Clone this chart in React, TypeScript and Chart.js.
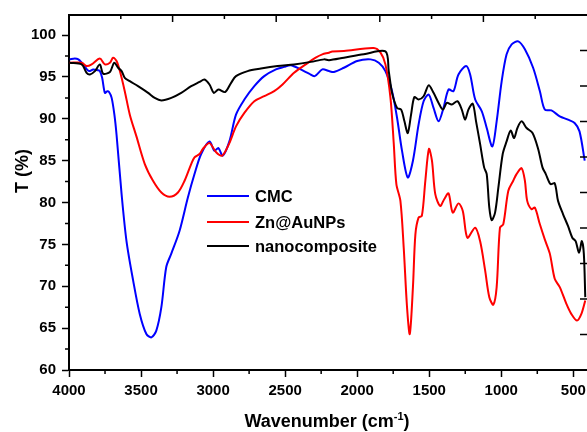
import React, { useEffect, useRef } from "react";
import { Chart, registerables } from "chart.js";

Chart.register(...registerables);

// ---- Data (wavenumber in cm-1, transmittance in %) ----
const cmcWave = [3995, 3960, 3935, 3912, 3880, 3860, 3832, 3800, 3786, 3770, 3751, 3735, 3722, 3704, 3685, 3670, 3635, 3601, 3555, 3509, 3463, 3428, 3394, 3359, 3325, 3290, 3233, 3175, 3129, 3083, 3025, 2991, 2963, 2933, 2887, 2841, 2783, 2714, 2645, 2564, 2507, 2461, 2392, 2334, 2295, 2242, 2196, 2161, 2092, 2000, 1907, 1850, 1804, 1758, 1723, 1689, 1649, 1613, 1574, 1539, 1504, 1470, 1435, 1401, 1366, 1332, 1297, 1244, 1216, 1181, 1135, 1101, 1062, 1032, 997, 963, 928, 882, 836, 779, 732, 698, 652, 594, 537, 491, 457, 421];
const cmcT = [97.1, 97.2, 97.1, 96.7, 96.0, 95.7, 95.9, 95.8, 95.7, 94.9, 93.1, 93.3, 93.2, 92.5, 90.5, 88.1, 81.0, 75.4, 70.7, 66.7, 64.3, 63.9, 64.7, 67.5, 72.3, 73.9, 76.6, 80.6, 83.4, 85.8, 87.3, 86.2, 86.5, 85.6, 87.3, 90.5, 92.3, 93.9, 95.1, 95.9, 96.2, 96.4, 95.9, 95.4, 95.1, 95.9, 95.7, 95.6, 96.1, 96.9, 97.1, 96.7, 95.7, 93.3, 90.1, 86.2, 83.0, 85.0, 89.3, 92.1, 92.9, 91.3, 89.7, 91.3, 93.5, 93.3, 95.3, 96.3, 95.3, 92.3, 90.9, 88.9, 86.7, 89.7, 94.5, 97.7, 98.9, 99.25, 98.3, 96.1, 93.3, 91.1, 91.0, 90.3, 89.9, 89.5, 88.5, 85.0];

const znWave = [3995, 3912, 3878, 3843, 3786, 3751, 3716, 3694, 3670, 3647, 3613, 3578, 3532, 3474, 3417, 3359, 3302, 3244, 3198, 3152, 3129, 3094, 3071, 3025, 2979, 2937, 2887, 2841, 2783, 2714, 2645, 2576, 2518, 2438, 2357, 2288, 2242, 2196, 2173, 2092, 1885, 1838, 1804, 1769, 1746, 1728, 1700, 1677, 1654, 1635, 1613, 1596, 1574, 1551, 1527, 1502, 1481, 1458, 1424, 1396, 1366, 1337, 1297, 1267, 1235, 1181, 1147, 1112, 1083, 1055, 1032, 1009, 986, 951, 917, 894, 859, 836, 820, 790, 767, 732, 698, 663, 629, 594, 548, 514, 474, 444, 417];
const znT = [96.7, 96.7, 96.3, 96.5, 97.2, 96.5, 96.7, 97.3, 96.9, 95.7, 93.3, 90.5, 87.9, 84.6, 82.6, 81.2, 80.7, 81.2, 82.6, 84.6, 85.4, 85.8, 86.4, 87.1, 86.0, 85.6, 87.1, 89.1, 90.7, 92.1, 92.7, 93.3, 94.1, 95.5, 96.5, 97.3, 97.7, 97.9, 98.05, 98.1, 98.45, 97.9, 96.5, 92.5, 87.0, 82.2, 80.2, 74.6, 67.5, 64.3, 69.9, 76.2, 78.2, 78.4, 82.6, 86.4, 85.0, 81.0, 79.6, 80.4, 81.1, 78.8, 79.9, 79.0, 75.8, 77.0, 75.4, 71.9, 68.7, 67.8, 69.9, 77.0, 77.4, 81.4, 82.6, 83.4, 84.1, 82.6, 80.2, 79.2, 79.4, 77.4, 75.6, 73.9, 70.9, 69.9, 67.9, 66.7, 65.9, 66.7, 68.3];

const nanoWave = [3995, 3912, 3878, 3855, 3820, 3786, 3763, 3716, 3686, 3659, 3635, 3613, 3578, 3521, 3451, 3405, 3359, 3290, 3221, 3152, 3094, 3060, 3025, 2995, 2963, 2917, 2875, 2841, 2760, 2668, 2553, 2438, 2322, 2230, 2196, 2092, 1954, 1804, 1781, 1758, 1723, 1695, 1672, 1649, 1626, 1603, 1574, 1539, 1504, 1470, 1435, 1405, 1378, 1344, 1304, 1274, 1251, 1228, 1198, 1175, 1147, 1119, 1101, 1083, 1066, 1043, 1020, 990, 963, 935, 911, 888, 859, 824, 783, 744, 714, 691, 658, 629, 606, 571, 537, 507, 484, 460, 441, 427, 417];
const nanoT = [96.7, 96.5, 95.5, 95.3, 95.7, 96.5, 95.4, 95.6, 96.7, 96.1, 95.7, 94.9, 94.5, 93.9, 93.1, 92.5, 92.2, 92.5, 93.1, 93.9, 94.4, 94.7, 94.1, 93.1, 93.5, 93.2, 94.3, 95.1, 95.7, 96.0, 96.3, 96.5, 96.8, 97.1, 97.0, 97.3, 97.7, 98.05, 95.7, 93.1, 91.3, 91.1, 89.7, 88.3, 90.5, 92.6, 92.3, 92.7, 94.0, 93.1, 91.9, 91.1, 91.9, 91.7, 92.1, 91.1, 89.9, 91.1, 91.8, 89.7, 87.0, 84.2, 83.4, 79.4, 77.9, 78.8, 81.8, 85.8, 87.3, 88.6, 87.7, 88.9, 89.7, 88.9, 88.3, 86.4, 84.2, 83.4, 82.2, 82.3, 80.2, 78.6, 77.2, 75.8, 75.4, 74.0, 75.4, 73.9, 68.7];

const seriesNames = ["CMC", "Zn@AuNPs", "nanocomposite"];
const seriesColors = ["#0000ff", "#ff0000", "#000000"];

const xTicks = [500, 1000, 1500, 2000, 2500, 3000, 3500, 4000];
const xMinorTicks = [750, 1250, 1750, 2250, 2750, 3250, 3750];
const yTicks = [60, 65, 70, 75, 80, 85, 90, 95, 100];
const yMinorTicks = [62.5, 67.5, 72.5, 77.5, 82.5, 87.5, 92.5, 97.5];

const X_MIN = 405;
const X_MAX = 4000;
const Y_MIN = 60;
const Y_MAX = 102.4;

const FONT = 'Arial, "Liberation Sans", sans-serif';

const zip = (xs: number[], ys: number[]) => xs.map((x, i) => ({ x, y: ys[i] }));

const framePlugin = {
  id: "frame",
  afterDraw(chart: any) {
    const { ctx, chartArea: a, scales } = chart;
    const xs = scales.x;
    const ys = scales.y;
    ctx.save();
    ctx.strokeStyle = "#000";
    ctx.fillStyle = "#000";

    // top border
    ctx.lineWidth = 2;
    ctx.beginPath();
    ctx.moveTo(a.left - 1, a.top);
    ctx.lineTo(a.right, a.top);
    ctx.stroke();

    ctx.lineWidth = 1.5;
    ctx.beginPath();
    // minor bottom ticks
    xMinorTicks.forEach((v) => {
      const px = xs.getPixelForValue(v);
      ctx.moveTo(px, a.bottom);
      ctx.lineTo(px, a.bottom + 4);
    });
    // minor left ticks
    yMinorTicks.forEach((v) => {
      const py = ys.getPixelForValue(v);
      ctx.moveTo(a.left, py);
      ctx.lineTo(a.left - 4, py);
    });
    // top axis ticks (inward), 10 divisions
    const w = a.right - a.left;
    const h = a.bottom - a.top;
    for (let i = 1; i < 10; i++) {
      const px = a.left + (i * w) / 10;
      ctx.moveTo(px, a.top);
      ctx.lineTo(px, a.top + (i % 2 === 0 ? 7 : 4));
    }
    // right axis ticks (inward), 10 divisions
    for (let i = 1; i < 10; i++) {
      const py = a.bottom - (i * h) / 10;
      ctx.moveTo(a.right, py);
      ctx.lineTo(a.right - 7, py);
    }
    ctx.stroke();

    // legend
    const lx = 207;
    const lys = [196, 222, 246];
    chart.data.datasets.forEach((ds: any, i: number) => {
      ctx.strokeStyle = ds.borderColor;
      ctx.lineWidth = 2;
      ctx.beginPath();
      ctx.moveTo(lx, lys[i]);
      ctx.lineTo(lx + 42, lys[i]);
      ctx.stroke();
      ctx.fillStyle = "#000";
      ctx.font = `bold 16.5px ${FONT}`;
      ctx.textAlign = "left";
      ctx.textBaseline = "middle";
      ctx.fillText(ds.label, lx + 48, lys[i] + 1);
    });

    // x title with superscript
    ctx.fillStyle = "#000";
    ctx.textBaseline = "alphabetic";
    ctx.textAlign = "left";
    const big = `bold 18px ${FONT}`;
    const small = `bold 11px ${FONT}`;
    const p1 = "Wavenumber (cm";
    const p2 = "-1";
    const p3 = ")";
    ctx.font = big;
    const w1 = ctx.measureText(p1).width;
    const w3 = ctx.measureText(p3).width;
    ctx.font = small;
    const w2 = ctx.measureText(p2).width;
    const total = w1 + w2 + w3;
    const cx = (a.left + a.right) / 2 - 1;
    let tx = cx - total / 2;
    const base = 427;
    ctx.font = big;
    ctx.fillText(p1, tx, base);
    tx += w1;
    ctx.font = small;
    ctx.fillText(p2, tx, base - 7);
    tx += w2;
    ctx.font = big;
    ctx.fillText(p3, tx, base);

    // y title
    ctx.save();
    ctx.translate(28, 171);
    ctx.rotate(-Math.PI / 2);
    ctx.font = big;
    ctx.textAlign = "center";
    ctx.textBaseline = "alphabetic";
    ctx.fillText("T (%)", 0, 0);
    ctx.restore();

    ctx.restore();
  },
};

export default function App() {
  const ref = useRef<HTMLCanvasElement | null>(null);

  useEffect(() => {
    if (!ref.current) return;
    const waves = [cmcWave, znWave, nanoWave];
    const values = [cmcT, znT, nanoT];
    const orders = [2, 1, 0];
    const chart = new Chart(ref.current, {
      type: "line",
      data: {
        datasets: seriesNames.map((name, i) => ({
          label: name,
          data: zip(waves[i], values[i]),
          borderColor: seriesColors[i],
          backgroundColor: seriesColors[i],
          borderWidth: 2,
          pointRadius: 0,
          tension: 0.3,
          fill: false,
          order: orders[i],
        })),
      },
      options: {
        responsive: false,
        animation: false,
        events: [],
        layout: { padding: { top: 13, right: 0, left: 0, bottom: 0 } },
        plugins: {
          legend: { display: false },
          tooltip: { enabled: false },
          title: { display: false },
        },
        scales: {
          x: {
            type: "linear",
            reverse: true,
            min: X_MIN,
            max: X_MAX,
            afterBuildTicks: (s: any) => {
              s.ticks = xTicks.map((v) => ({ value: v }));
            },
            afterFit: (s: any) => {
              s.height = 62;
            },
            grid: {
              display: true,
              drawOnChartArea: false,
              drawTicks: true,
              tickLength: 7,
              tickWidth: 1.5,
              tickColor: "#000",
            },
            border: { display: true, color: "#000", width: 2 },
            ticks: {
              color: "#000",
              padding: 5,
              maxRotation: 0,
              autoSkip: false,
              font: { family: FONT, size: 15, weight: "bold" },
              callback: (v: any) => String(v),
            },
          },
          y: {
            type: "linear",
            min: Y_MIN,
            max: Y_MAX,
            afterBuildTicks: (s: any) => {
              s.ticks = yTicks.map((v) => ({ value: v }));
            },
            afterFit: (s: any) => {
              s.width = 69;
            },
            grid: {
              display: true,
              drawOnChartArea: false,
              drawTicks: true,
              tickLength: 7,
              tickWidth: 1.5,
              tickColor: "#000",
            },
            border: { display: true, color: "#000", width: 2 },
            ticks: {
              color: "#000",
              padding: 6,
              autoSkip: false,
              font: { family: FONT, size: 15, weight: "bold" },
              callback: (v: any) => String(v),
            },
          },
        },
      },
      plugins: [framePlugin],
    } as any);
    return () => chart.destroy();
  }, []);

  return (
    <div style={{ position: "absolute", left: 0, top: 0, width: 587, height: 432, background: "#fff" }}>
      <canvas ref={ref} width={587} height={432} style={{ display: "block" }} />
    </div>
  );
}
